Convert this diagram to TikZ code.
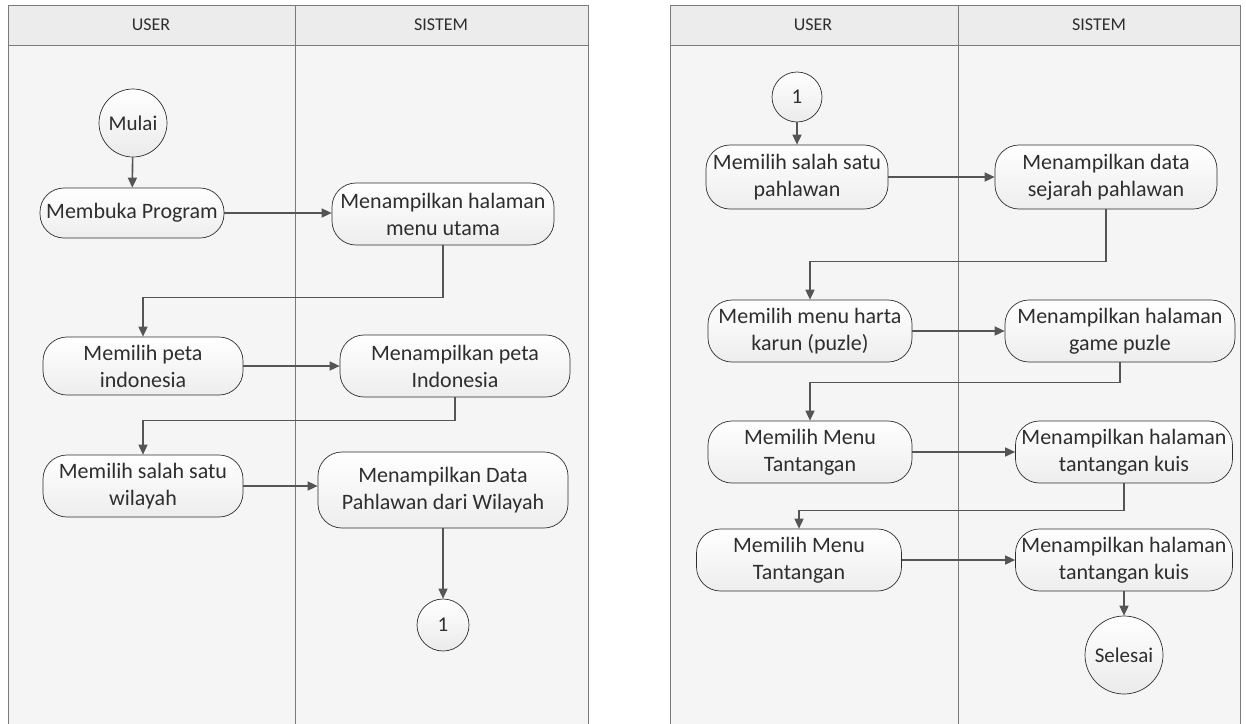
\documentclass[tikz,border=0pt]{standalone}
\usepackage{fontspec}
\setmainfont{Carlito}
\usepackage{xcolor}
\usepackage{tikz}
\usetikzlibrary{arrows.meta,positioning,calc}
\definecolor{lanebg}{HTML}{F5F5F5}
\definecolor{headbg}{HTML}{ECECEC}
\definecolor{edgegray}{HTML}{555555}
\definecolor{inkgray}{HTML}{2E2E2E}
\definecolor{framegray}{HTML}{7A7A7A}

\begin{document}
\begin{tikzpicture}[
    x=1pt, y=-1pt,
    >={Triangle[length=10pt,width=9pt]},
    lane/.style={draw=framegray, fill=lanebg, line width=0.9pt},
    lanehead/.style={draw=framegray, fill=headbg, line width=0.9pt},
    headtext/.style={font=\fontsize{18}{21}\selectfont, text=inkgray},
    act/.style={draw=inkgray, line width=0.7pt, rounded corners=24pt,
        top color=white, bottom color=gray!14, align=center,
        minimum height=62pt, inner sep=1pt,
        font=\fontsize{22}{27}\selectfont, text=inkgray},
    terminal/.style={circle, draw=inkgray, line width=0.7pt,
        top color=white, bottom color=gray!16, inner sep=1pt,
        font=\fontsize{21}{24}\selectfont, text=inkgray},
    conn/.style={->, draw=edgegray, line width=1.6pt},
]
\useasboundingbox (0,0) rectangle (1246,723);
\fill[white] (0,0) rectangle (1246,723);

% swimlanes, left part
\draw[lane] (8,5) rectangle (588,730);
\draw[lanehead] (8,5) rectangle (588,45);
\draw[framegray, line width=0.9pt] (295,5) -- (295,730);
\node[headtext] (userA) at (151,25) {USER};
\node[headtext] (sistemA) at (441,25) {SISTEM};

% swimlanes, right part
\draw[lane] (670,5) rectangle (1240,730);
\draw[lanehead] (670,5) rectangle (1240,45);
\draw[framegray, line width=0.9pt] (958,5) -- (958,730);
\node[headtext] (userB) at (813,25) {USER};
\node[headtext] (sistemB) at (1099,25) {SISTEM};

% left activities
\node[terminal, minimum size=68pt] (mulai) at (133,123) {Mulai};
\node[act, minimum width=184pt, minimum height=50pt] (buka) at (132,213)
    {Membuka Program};
\node[act, minimum width=222pt] (menu) at (443,214)
    {Menampilkan halaman\\menu utama};
\node[act, minimum width=200pt, minimum height=58pt] (pilihpeta) at (143,366)
    {Memilih peta\\indonesia};
\node[act, minimum width=230pt] (peta) at (455,366)
    {Menampilkan peta\\Indonesia};
\node[act, minimum width=200pt] (pilihwil) at (143,486)
    {Memilih salah satu\\wilayah};
\node[act, minimum width=250pt, minimum height=76pt] (datapah) at (443,490)
    {Menampilkan Data\\Pahlawan dari Wilayah};
\node[terminal, minimum size=52pt] (sambA) at (443,625) {1};

% right activities
\node[terminal, minimum size=50pt] (sambB) at (797,97) {1};
\node[act, minimum width=182pt, minimum height=64pt] (pilihpah) at (797,177)
    {Memilih salah satu\\pahlawan};
\node[act, minimum width=222pt, minimum height=64pt] (sejarah) at (1106,177)
    {Menampilkan data\\sejarah pahlawan};
\node[act, minimum width=204pt] (pilihharta) at (810,331)
    {Memilih menu harta\\karun (puzle)};
\node[act, minimum width=230pt] (puzle) at (1120,331)
    {Menampilkan halaman\\game puzle};
\node[act, minimum width=204pt] (pilihtan) at (810,452)
    {Memilih Menu\\Tantangan};
\node[act, minimum width=217pt] (kuis) at (1124,452)
    {Menampilkan halaman\\tantangan kuis};
\node[act, minimum width=205pt] (pilihtanB) at (799,560)
    {Memilih Menu\\Tantangan};
\node[act, minimum width=217pt] (kuisB) at (1124,560)
    {Menampilkan halaman\\tantangan kuis};
\node[terminal, minimum size=78pt] (selesai) at (1124,655) {Selesai};

% left flow
\draw[conn] (mulai) -- (buka);
\draw[conn] (buka) -- (buka -| menu.west);
\draw[conn] (menu.south) -- ++(0,52) -| (pilihpeta.north);
\draw[conn] (pilihpeta) -- (pilihpeta -| peta.west);
\draw[conn] (peta.south) -- ++(0,23) -| (pilihwil.north);
\draw[conn] (pilihwil.east) -- (pilihwil.east -| datapah.west);
\draw[conn] (datapah) -- (sambA);

% right flow
\draw[conn] (sambB) -- (pilihpah);
\draw[conn] (pilihpah) -- (sejarah);
\draw[conn] (sejarah.south) -- ++(0,52) -| (pilihharta.north);
\draw[conn] (pilihharta) -- (puzle);
\draw[conn] (puzle.south) -- ++(0,20) -| (pilihtan.north);
\draw[conn] (pilihtan) -- (kuis);
\draw[conn] (kuis.south) -- ++(0,27) -| (pilihtanB.north);
\draw[conn] (pilihtanB) -- (kuisB);
\draw[conn] (kuisB) -- (selesai);
\end{tikzpicture}
\end{document}
